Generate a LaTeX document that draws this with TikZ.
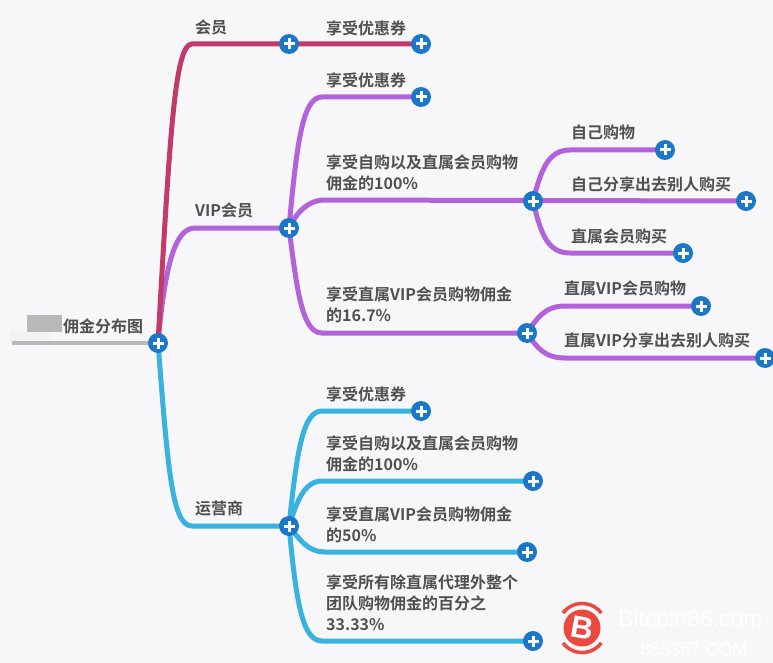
\documentclass[tikz,border=0pt]{standalone}
\usepackage{fontspec}
\setmainfont{Noto Sans CJK SC Bold}
\newfontfamily\latinf{Liberation Sans}
\newfontfamily\latinb{Liberation Sans Bold}
\usetikzlibrary{backgrounds}
\definecolor{bgc}{HTML}{F7F7F9}
\definecolor{pinkc}{HTML}{C23A68}
\definecolor{purc}{HTML}{B262DA}
\definecolor{cyac}{HTML}{38B2DE}
\definecolor{bluec}{HTML}{1B78C8}
\definecolor{txtc}{HTML}{505050}
\definecolor{redc}{HTML}{E9493F}
\tikzset{
  plusn/.style={circle,fill=bluec,draw=none,minimum size=20pt,inner sep=0pt,
    path picture={\draw[white,line width=3pt]
      ([xshift=-5.5pt]path picture bounding box.center)--([xshift=5.5pt]path picture bounding box.center)
      ([yshift=-5.5pt]path picture bounding box.center)--([yshift=5.5pt]path picture bounding box.center);}},
  lbl/.style={anchor=west,align=left,font=\fontsize{16}{21}\selectfont,text=txtc,inner sep=0pt},
  linkp/.style={line width=5pt,pinkc,line cap=round},
  linkv/.style={line width=5pt,purc,line cap=round},
  linkc/.style={line width=5pt,cyac,line cap=round},
  wm/.style={anchor=west,text=white,inner sep=0pt,font=\latinf\fontsize{23}{23}\selectfont}
}
\begin{document}
\begin{tikzpicture}[x=1pt,y=-1pt]
\useasboundingbox (0,0) rectangle (773,663);

% nodes
\node[plusn] (root) at (158,343) {};
\node[plusn] (a) at (289,44) {};
\node[plusn] (a1) at (421,44) {};
\node[plusn] (b) at (289,228) {};
\node[plusn] (b1) at (421,97) {};
\node[plusn] (b2) at (533,201) {};
\node[plusn] (b21) at (665,150) {};
\node[plusn] (b22) at (746,201) {};
\node[plusn] (b23) at (683,253) {};
\node[plusn] (b3) at (527,333) {};
\node[plusn] (b31) at (701,306) {};
\node[plusn] (b32) at (765,358) {};
\node[plusn] (c) at (289,526) {};
\node[plusn] (c1) at (421,411) {};
\node[plusn] (c2) at (533,481) {};
\node[plusn] (c3) at (527,552) {};
\node[plusn] (c4) at (533,641) {};

% elbows
\coordinate (ea) at (192,44);
\coordinate (eb) at (195,228);
\coordinate (ec) at (192,526);
\coordinate (eb1) at (322,97);
\coordinate (eb2) at (325,200);
\coordinate (eb3) at (322,333);
\coordinate (eb21) at (570,150);
\coordinate (eb23) at (570,253);
\coordinate (eb31) at (565,306);
\coordinate (eb32) at (565,358);
\coordinate (ec1) at (322,411);
\coordinate (ec2) at (322,481);
\coordinate (ec3) at (325,552);
\coordinate (ec4) at (322,641);

\begin{scope}[on background layer]
\fill[bgc] (0,0) rectangle (773,663);
\fill[white!90!gray] (10,332) rectangle (50,342);
\fill[gray!55] (27,315) rectangle (62,332);
\draw[line width=4pt,gray!55] (12,343)--(root.center);
\draw[linkc] (root.center) .. controls (168,470) and (172,526) .. (ec) -- (c.center);
\draw[linkv] (root.center) .. controls (165,265) and (175,228) .. (eb) -- (b.center);
\draw[linkp] (root.center) .. controls (170,130) and (175,44) .. (ea) -- (a1.center);
\draw[linkv] (b.center) .. controls (297,140) and (303,97) .. (eb1) -- (b1.center);
\draw[linkv] (b.center) .. controls (297,212) and (308,200) .. (eb2) -- (b22.center);
\draw[linkv] (b.center) .. controls (297,290) and (302,333) .. (eb3) -- (b3.center);
\draw[linkv] (b2.center) .. controls (541,170) and (548,150) .. (eb21) -- (b21.center);
\draw[linkv] (b2.center) .. controls (541,235) and (548,253) .. (eb23) -- (b23.center);
\draw[linkv] (b3.center) .. controls (537,318) and (545,306) .. (eb31) -- (b31.center);
\draw[linkv] (b3.center) .. controls (537,348) and (545,358) .. (eb32) -- (b32.center);
\draw[linkc] (c.center) .. controls (297,450) and (303,411) .. (ec1) -- (c1.center);
\draw[linkc] (c.center) .. controls (297,500) and (305,481) .. (ec2) -- (c2.center);
\draw[linkc] (c.center) .. controls (300,540) and (308,552) .. (ec3) -- (c3.center);
\draw[linkc] (c.center) .. controls (296,600) and (302,641) .. (ec4) -- (c4.center);
\end{scope}

% labels
\node[lbl] (t0) at (63,326) {佣金分布图};
\node[lbl] (ta) at (195,27) {会员};
\node[lbl] (ta1) at (326,28) {享受优惠券};
\node[lbl] (tb) at (195,210) {VIP会员};
\node[lbl] (tb1) at (326,80) {享受优惠券};
\node[lbl] (tb2) at (326,173) {享受自购以及直属会员购物\\佣金的100\%};
\node[lbl] (tb21) at (571,132) {自己购物};
\node[lbl] (tb22) at (571,184) {自己分享出去别人购买};
\node[lbl] (tb23) at (571,236) {直属会员购买};
\node[lbl] (tb3) at (326,305) {享受直属VIP会员购物佣金\\的16.7\%};
\node[lbl] (tb31) at (564,288) {直属VIP会员购物};
\node[lbl] (tb32) at (564,340) {直属VIP分享出去别人购买};
\node[lbl] (tc) at (195,508) {运营商};
\node[lbl] (tc1) at (326,394) {享受优惠券};
\node[lbl] (tc2) at (326,454) {享受自购以及直属会员购物\\佣金的100\%};
\node[lbl] (tc3) at (326,525) {享受直属VIP会员购物佣金\\的50\%};
\node[lbl] (tc4) at (326,603) {享受所有除直属代理外整个\\团队购物佣金的百分之\\33.33\%};

% watermark
\fill[redc] (582,628) circle (18.5);
\node[font=\latinb\fontsize{31}{31}\selectfont,text=white,inner sep=0pt,rotate=-10] (wb) at (582,628) {B};
\draw[redc,line width=3.5pt] (563,613) arc[start angle=-143,end angle=-37,radius=24];
\draw[redc,line width=3.5pt] (563,643) arc[start angle=143,end angle=37,radius=24];
\node[wm] (w1) at (618,618) {Bitcoin86.com};
\node[wm,font=\latinf\fontsize{18}{18}\selectfont] (w2) at (640,649) {865367.COM};
\end{tikzpicture}
\end{document}
